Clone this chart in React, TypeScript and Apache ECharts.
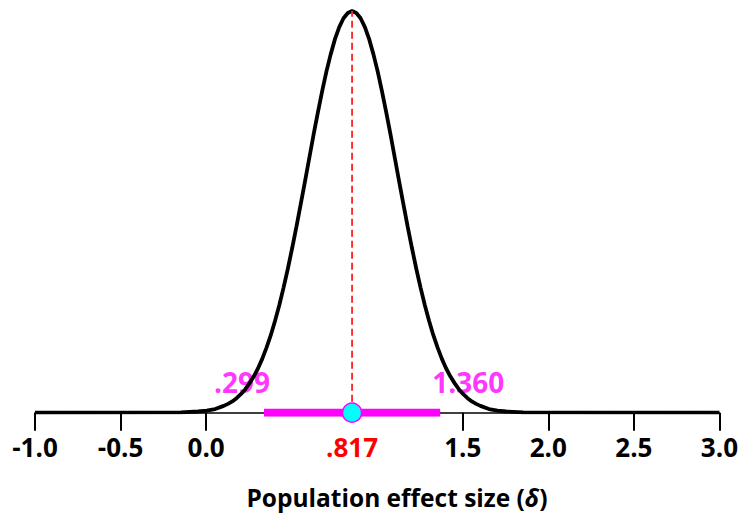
import React, { useEffect, useRef } from "react";
import * as echarts from "echarts";

// Density curve (x in effect-size units, y relative to peak)
const curveX = [
  -1.0, -0.147, -0.047, 0.003, 0.053, 0.103, 0.128, 0.153, 0.178, 0.203, 0.228, 0.253, 0.278, 0.303,
  0.328, 0.353, 0.378, 0.403, 0.428, 0.453, 0.478, 0.503, 0.528, 0.553, 0.578, 0.603, 0.628, 0.653,
  0.678, 0.703, 0.728, 0.753, 0.778, 0.803, 0.828, 0.853, 0.878, 0.903, 0.928, 0.953, 0.978, 1.003,
  1.028, 1.053, 1.078, 1.103, 1.128, 1.153, 1.178, 1.203, 1.228, 1.253, 1.278, 1.303, 1.328, 1.353,
  1.378, 1.403, 1.428, 1.453, 1.478, 1.503, 1.528, 1.553, 1.578, 1.603, 1.653, 1.703, 1.753, 1.853, 3.0,
];
const curveY = [
  0, 0.001, 0.003, 0.005, 0.009, 0.017, 0.022, 0.028, 0.036, 0.046, 0.058, 0.073, 0.09, 0.11,
  0.134, 0.162, 0.193, 0.229, 0.268, 0.312, 0.359, 0.41, 0.463, 0.519, 0.576, 0.634, 0.692, 0.747,
  0.8, 0.849, 0.892, 0.93, 0.96, 0.982, 0.995, 1.0, 0.995, 0.982, 0.96, 0.93, 0.892, 0.849,
  0.8, 0.747, 0.692, 0.634, 0.576, 0.519, 0.463, 0.41, 0.359, 0.312, 0.268, 0.229, 0.193, 0.162,
  0.134, 0.11, 0.09, 0.073, 0.058, 0.046, 0.036, 0.028, 0.022, 0.017, 0.009, 0.005, 0.003, 0.001, 0,
];

// Point estimate and interval (positions as drawn, labels as printed)
const pointX = 0.853;
const pointLabel = ".817";
const ciLowX = 0.338;
const ciHighX = 1.368;
const ciLowLabel = ".299";
const ciHighLabel = "1.360";

const tickValues = [-1.0, -0.5, 0.0, 1.5, 2.0, 2.5, 3.0];
const labelValues = [-1.0, -0.5, 0.0, pointX, 1.5, 2.0, 2.5, 3.0];
const axisTitle = "Population effect size (";

const FONT = "'Open Sans', Lato, sans-serif";

export default function App() {
  const ref = useRef<HTMLDivElement>(null);
  useEffect(() => {
    if (!ref.current) return;
    const chart = echarts.init(ref.current, null, { renderer: "svg" });
    const curve = curveX.map((x, i) => [x, curveY[i]]);
    const labelStyle = {
      show: true,
      position: "inside",
      color: "#ff00ff",
      fontFamily: FONT,
      fontWeight: "bold",
      fontSize: 28,
    };
    chart.setOption({
      animation: false,
      backgroundColor: "#ffffff",
      grid: { left: 35, right: 19.3, top: 11, bottom: 100.3 },
      xAxis: {
        type: "value",
        min: -1,
        max: 3,
        splitLine: { show: false },
        axisLine: { show: true, onZero: false, lineStyle: { color: "#000", width: 1.5 } },
        axisTick: {
          show: true,
          customValues: tickValues,
          length: 18,
          lineStyle: { color: "#000", width: 2 },
        },
        axisLabel: {
          show: true,
          customValues: labelValues,
          margin: 21,
          fontFamily: FONT,
          fontWeight: "bold",
          fontSize: 26,
          formatter: (v: number) => (Math.abs(v - pointX) < 1e-6 ? pointLabel : v.toFixed(1)),
          color: (v: any) => (Math.abs(Number(v) - pointX) < 1e-6 ? "#ff0000" : "#000000"),
        },
      },
      yAxis: { type: "value", min: 0, max: 1, show: false },
      graphic: [
        {
          type: "text",
          x: 397,
          y: 497,
          style: {
            text: axisTitle + "{i|δ})",
            rich: {
              i: { fontStyle: "italic", fontFamily: FONT, fontWeight: "bold", fontSize: 24.5, fill: "#000" },
            },
            fontFamily: FONT,
            fontWeight: "bold",
            fontSize: 24.5,
            fill: "#000",
            align: "center",
            verticalAlign: "middle",
          },
        },
      ],
      series: [
        {
          type: "scatter",
          data: [
            { value: [ciLowX, 0], label: { ...labelStyle, formatter: ciLowLabel, offset: [-22, -31] } },
            { value: [ciHighX, 0], label: { ...labelStyle, formatter: ciHighLabel, offset: [28, -31] } },
          ],
          symbol: "circle",
          symbolSize: 1,
          itemStyle: { color: "rgba(0,0,0,0)" },
          z: 1,
        },
        {
          type: "line",
          data: curve,
          showSymbol: false,
          symbol: "none",
          lineStyle: { color: "#000", width: 3.8 },
          z: 3,
        },
        {
          type: "line",
          data: [
            [pointX, 0],
            [pointX, 1],
          ],
          symbol: "none",
          lineStyle: { color: "#ff2020", width: 1.8, type: [7, 4] },
          z: 4,
        },
        {
          type: "line",
          data: [
            [ciLowX, 0],
            [ciHighX, 0],
          ],
          symbol: "none",
          lineStyle: { color: "#ff00ff", width: 8, cap: "butt" },
          z: 5,
        },
        {
          type: "scatter",
          data: [[pointX, 0]],
          symbol: "circle",
          symbolSize: 19,
          itemStyle: { color: "#00ffff", borderColor: "#ff00ff", borderWidth: 1.5, opacity: 1 },
          z: 6,
        },
      ],
    });
    return () => chart.dispose();
  }, []);
  return (
    <div
      ref={ref}
      style={{ position: "fixed", left: 0, top: 0, width: 741, height: 513, background: "#fff" }}
    />
  );
}
